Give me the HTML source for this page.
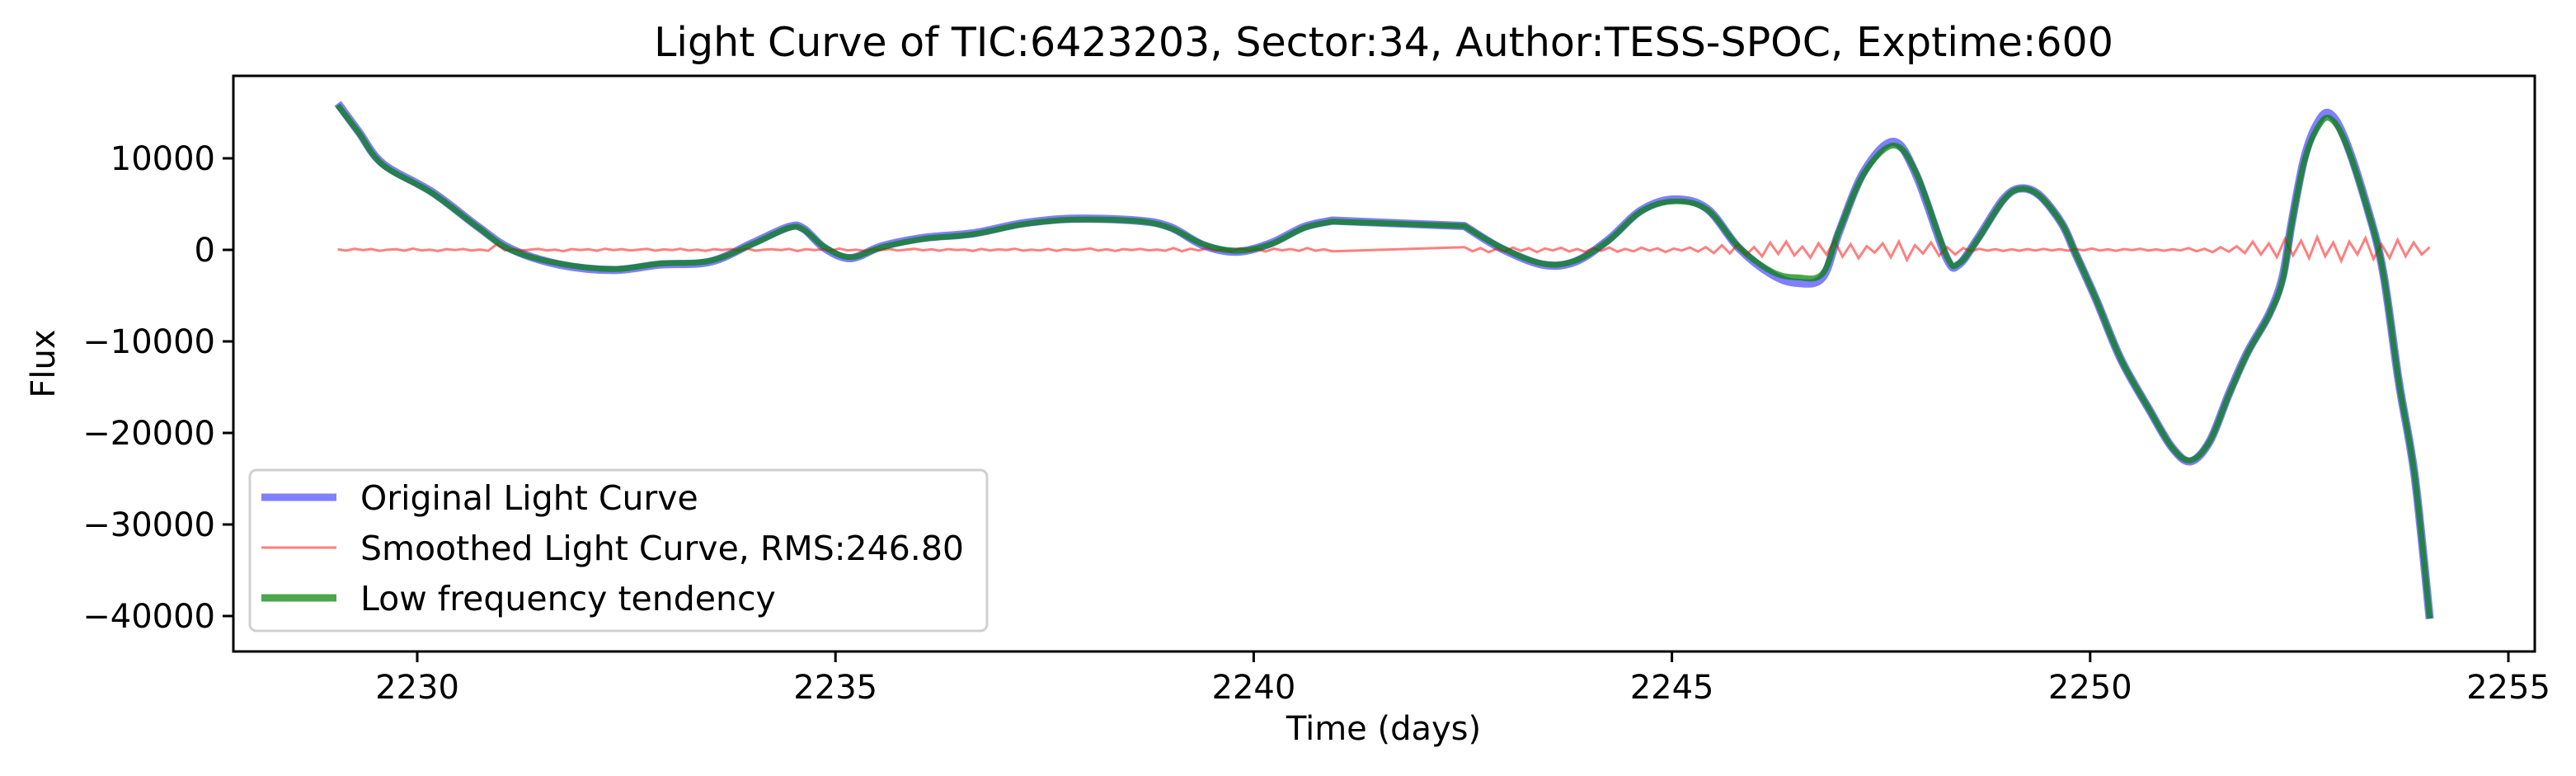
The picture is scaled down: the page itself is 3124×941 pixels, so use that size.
<!DOCTYPE html>
<html><head><meta charset="utf-8"><style>
html,body{margin:0;padding:0;background:#fff;}
svg{display:block;font-family:"DejaVu Sans","Liberation Sans",sans-serif;}
</style></head><body>
<svg id="chart" width="3124" height="941" viewBox="0 0 3124 941" xmlns="http://www.w3.org/2000/svg">
<rect width="3124" height="941" fill="#fff"/>
<text x="1678" y="68" font-size="49" text-anchor="middle">Light Curve of TIC:6423203, Sector:34, Author:TESS-SPOC, Exptime:600</text>
<g id="plot"></g>
<g id="axes"></g>
<text transform="translate(66,441) rotate(-90)" font-size="40" text-anchor="middle">Flux</text>
<text x="1678" y="897" font-size="40" text-anchor="middle">Time (days)</text>
<g>
<rect x="303" y="570" width="894" height="195" rx="8" fill="#fff" fill-opacity="0.8" stroke="#d0d0d0" stroke-width="3"/>
<line x1="317" y1="603" x2="408" y2="603" stroke="#0000ff" stroke-opacity="0.5" stroke-width="9"/>
<text x="437" y="618" font-size="41">Original Light Curve</text>
<line x1="317" y1="664" x2="408" y2="664" stroke="#ff0000" stroke-opacity="0.5" stroke-width="3"/>
<text x="437" y="679" font-size="41">Smoothed Light Curve, RMS:246.80</text>
<line x1="317" y1="725" x2="408" y2="725" stroke="#008000" stroke-opacity="0.7" stroke-width="9"/>
<text x="437" y="740" font-size="41">Low frequency tendency</text>
</g>
</svg>
<script>
const xTicks=[2230,2235,2240,2245,2250,2255];
const yTicks=[10000,0,-10000,-20000,-30000,-40000];
const trendTime=[2229.05,2229.3,2229.59,2230.18,2230.73,2231.12,2231.7,2232.35,2232.9,2233.5,2234.0,2234.44,2234.62,2234.87,2235.18,2235.56,2236.05,2236.64,2237.24,2237.83,2238.6,2239.0,2239.4,2239.8,2240.2,2240.6,2240.94,2242.52,2242.95,2243.45,2243.84,2244.24,2244.63,2245.02,2245.42,2245.8,2246.2,2246.5,2246.8,2247.0,2247.3,2247.65,2247.92,2248.28,2248.43,2248.66,2248.96,2249.16,2249.39,2249.66,2249.82,2250.07,2250.37,2250.71,2250.98,2251.2,2251.43,2251.66,2251.88,2252.14,2252.3,2252.41,2252.56,2252.71,2252.86,2253.05,2253.31,2253.5,2253.69,2253.88,2254.06];
const trendFlux=[15800,12800,9280,6200,2430,0,-1500,-2100,-1500,-1200,600,2400,2200,300,-800,300,1200,1700,2800,3300,3150,2400,600,-100,600,2400,3100,2600,300,-1500,-1200,1000,4200,5300,4400,300,-2400,-3000,-2600,2100,8400,11400,8400,-600,-1500,1200,5400,6670,5950,2900,-270,-5400,-12000,-17500,-21600,-23000,-20900,-15800,-11300,-7100,-3300,2900,9700,13200,14400,11800,4600,-2300,-14400,-24700,-40300];
const origTime=trendTime.slice();
const origFlux=[16000,12900,9400,6300,2500,100,-1600,-2200,-1600,-1300,700,2500,2300,200,-900,400,1300,1800,2900,3400,3200,2500,500,-200,700,2500,3200,2600,200,-1600,-1300,1100,4300,5500,4500,200,-2700,-3600,-3000,2000,8600,11800,8200,-800,-1600,1300,5500,6700,6000,2900,-300,-5400,-12000,-17500,-21600,-23100,-20900,-15700,-11200,-7000,-3000,3000,10000,13700,14900,12000,4700,-2300,-14400,-24700,-40300];
const redSeg1Start=2229.05, redSeg1End=2240.94;
const redSeg1=[50,-80,120,-40,90,-110,30,60,-90,140,-60,20,-120,80,-30,100,-70,40,-100,600,-50,70,-90,30,110,-60,20,-140,90,-20,60,-100,130,-40,80,-70,20,110,-90,50,-30,120,-80,40,-110,70,-20,90,-60,130,-100,30,60,-40,110,-130,80,-20,50,-90,140,-60,30,-110,70,-40,100,-80,20,120,-50,60,-100,90,-30,40,-120,110,-70,50,-20,130,-90,30,-60,100,-110,70,-40,20,150,-80,60,-130,90,-30,110,-50,40,-100,200,-150,120,-60,180,-90,40,-140,160,-70,100,-180,130,-50,90,-120,200,-100,60,-150];
const redSeg2Start=2242.52, redSeg2End=2254.06;
const redSeg2=[300,-150,200,-250,120,-180,260,-100,190,-240,150,-60,230,-170,90,-210,180,-120,250,-200,110,-160,240,-90,170,-230,140,-70,260,-190,300,-350,500,-400,650,-550,300,-700,800,-450,900,-600,350,-850,700,-500,1000,-750,600,-900,400,-300,700,-800,900,-1100,500,-400,800,-650,300,-500,200,-150,120,-90,80,-120,60,-100,90,-70,110,-60,80,-90,70,-50,150,-80,60,-110,90,-40,120,-70,50,-100,80,-60,200,-150,120,-250,300,-200,400,-350,900,-500,700,-800,1200,-600,1000,-900,1400,-700,800,-1200,900,-500,1300,-1000,600,-900,1100,-700,800,-500,300];
const ns='http://www.w3.org/2000/svg';
const X0=283,X1=3074,Y0=92,Y1=790;
function sx(t){return 506+(t-2230)*(3042-506)/25;}
function sy(f){return 303-f*(303-192)/10000;}
function mk(tag,attrs,parent){const e=document.createElementNS(ns,tag);for(const k in attrs)e.setAttribute(k,attrs[k]);parent.appendChild(e);return e;}
function smooth(pts){let d='M'+pts[0][0].toFixed(1)+','+pts[0][1].toFixed(1);for(let i=0;i<pts.length-1;i++){const p0=pts[Math.max(0,i-1)],p1=pts[i],p2=pts[i+1],p3=pts[Math.min(pts.length-1,i+2)];const c1=[p1[0]+(p2[0]-p0[0])/6,p1[1]+(p2[1]-p0[1])/6],c2=[p2[0]-(p3[0]-p1[0])/6,p2[1]-(p3[1]-p1[1])/6];d+='C'+c1[0].toFixed(1)+','+c1[1].toFixed(1)+' '+c2[0].toFixed(1)+','+c2[1].toFixed(1)+' '+p2[0].toFixed(1)+','+p2[1].toFixed(1);}return d;}
const plot=document.getElementById('plot');
const gapIdx=27;
function seriesPath(times,vals){const a=[],b=[];for(let i=0;i<times.length;i++){(i<gapIdx?a:b).push([sx(times[i]),sy(vals[i])]);}return smooth(a)+' L'+smooth(b).slice(1);}
const orig=mk('path',{d:seriesPath(origTime,origFlux),fill:'none',stroke:'#0000ff','stroke-opacity':0.5,'stroke-width':10,'stroke-linejoin':'round'},plot);


function redPts(start,end,vals){const out=[];for(let i=0;i<vals.length;i++){const t=start+(end-start)*i/(vals.length-1);out.push(sx(t).toFixed(1)+','+sy(vals[i]).toFixed(1));}return out;}
const rp=redPts(redSeg1Start,redSeg1End,redSeg1).concat(redPts(redSeg2Start,redSeg2End,redSeg2));
const red=mk('polyline',{points:rp.join(' '),fill:'none',stroke:'#ff0000','stroke-opacity':0.5,'stroke-width':3},plot);


const trend=mk('path',{d:seriesPath(trendTime,trendFlux),fill:'none',stroke:'#008000','stroke-opacity':0.7,'stroke-width':7,'stroke-linejoin':'round'},plot);


const axes=document.getElementById('axes');
const frame=mk('rect',{x:X0,y:Y0,width:X1-X0,height:Y1-Y0,fill:'none',stroke:'#000','stroke-width':3},axes);


xTicks.forEach(t=>{const x=sx(t);
const tk=mk('line',{x1:x,y1:Y1,x2:x,y2:Y1+13,stroke:'#000','stroke-width':3},axes);


const lb=mk('text',{x:x,y:Y1+57,'font-size':40,'text-anchor':'middle'},axes);lb.textContent=t;

});
yTicks.forEach(v=>{const y=sy(v);
const tk=mk('line',{x1:X0-13,y1:y,x2:X0,y2:y,stroke:'#000','stroke-width':3},axes);


const lb=mk('text',{x:X0-22,y:y+14,'font-size':40,'text-anchor':'end'},axes);lb.textContent=(v<0?'\u2212':'')+Math.abs(v);

});
</script>
</body></html>
